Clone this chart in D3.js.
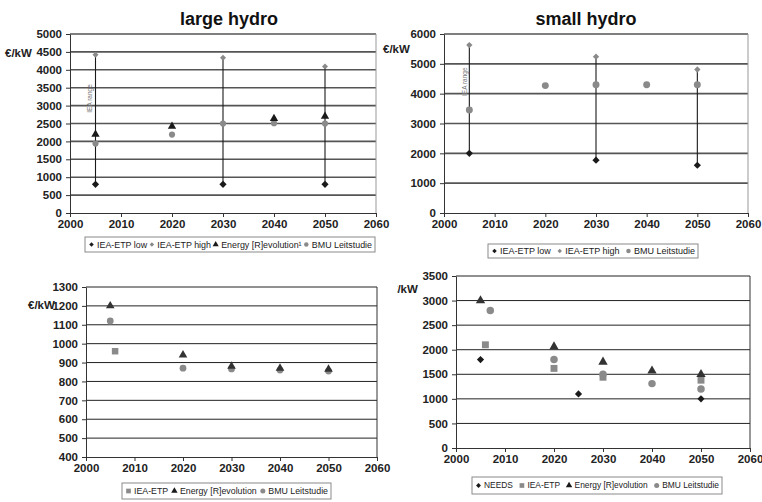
<!DOCTYPE html>
<html>
<head>
<meta charset="utf-8">
<title>hydro costs</title>
<script src="https://d3js.org/d3.v7.min.js"></script>
<style>
  body { margin: 0; background: #fff; }
  svg { display: block; font-family: "Liberation Sans", Arial, sans-serif; }
</style>
</head>
<body>
<svg width="762" height="502"></svg>
<script>
// ---- data (year, €/kW) ----
const xTicks = [2000, 2010, 2020, 2030, 2040, 2050, 2060];

// large hydro
const largeIeaLow = [[2005, 800], [2030, 800], [2050, 800]];
const largeIeaHigh = [[2005, 4420], [2030, 4340], [2050, 4090]];
const largeEnergyRev = [[2005, 2200], [2020, 2420], [2040, 2640], [2050, 2700]];
const largeBmu = [[2005, 1940], [2020, 2190], [2030, 2500], [2040, 2510], [2050, 2500]];
const largeTicks = d3.range(0, 5001, 500);

// small hydro
const smallIeaLow = [[2005, 2000], [2030, 1770], [2050, 1600]];
const smallIeaHigh = [[2005, 5630], [2030, 5240], [2050, 4810]];
const smallBmu = [[2005, 3450], [2020, 4270], [2030, 4300], [2040, 4300], [2050, 4300]];
const smallTicks = d3.range(0, 6001, 1000);

// bottom left
const blIeaEtp = [[2006, 960]];
const blEnergyRev = [[2005, 1200], [2020, 940], [2030, 880], [2040, 870], [2050, 865]];
const blBmu = [[2005, 1120], [2020, 870], [2030, 866], [2040, 860], [2050, 855]];
const blTicks = d3.range(400, 1301, 100);

// bottom right
const brNeeds = [[2005, 1800], [2025, 1100], [2050, 1000]];
const brIeaEtp = [[2006, 2100], [2020, 1620], [2030, 1440], [2050, 1380]];
const brEnergyRev = [[2005, 3000], [2020, 2060], [2030, 1750], [2040, 1570], [2050, 1500]];
const brBmu = [[2007, 2800], [2020, 1800], [2030, 1500], [2040, 1310], [2050, 1200]];
const brTicks = d3.range(0, 3501, 500);

const BLACK = "#1a1a1a", GREY = "#8a8a8a";

const svg = d3.select("svg");

function shapePath(shape, size) {
  if (shape === "diamond") return d3.symbol(d3.symbolSquare, size)();
  if (shape === "triangle") return d3.symbol(d3.symbolTriangle, size)();
  if (shape === "square") return d3.symbol(d3.symbolSquare, size)();
  return d3.symbol(d3.symbolCircle, size)();
}
function shapeRot(shape) { return shape === "diamond" ? " rotate(45)" : ""; }

function drawPanel(p) {
  const x = d3.scaleLinear().domain([2000, 2060]).range([p.left, p.right]);
  const y = d3.scaleLinear().domain([p.ticks[0], p.ticks[p.ticks.length - 1]]).range([p.bottom, p.top]);
  const g = svg.append("g");

  // gridlines
  g.selectAll("line.grid").data(p.ticks.slice(1)).join("line")
    .attr("x1", p.left).attr("x2", p.right)
    .attr("y1", d => y(d)).attr("y2", d => y(d))
    .attr("stroke", p.gridColor).attr("stroke-width", p.gridWidth);
  // frame right
  g.append("line").attr("x1", p.right).attr("x2", p.right)
    .attr("y1", p.top).attr("y2", p.bottom)
    .attr("stroke", p.frameColor).attr("stroke-width", 1);

  const yAxis = g.append("g").attr("transform", `translate(${p.left},0)`)
    .call(d3.axisLeft(y).tickValues(p.ticks).tickSize(4).tickSizeOuter(0).tickPadding(4).tickFormat(d3.format("d")));
  const xAxis = g.append("g").attr("transform", `translate(0,${p.bottom})`)
    .call(d3.axisBottom(x).tickValues(xTicks).tickSize(4).tickSizeOuter(0).tickPadding(3).tickFormat(d3.format("d")));
  [yAxis, xAxis].forEach(a => {
    a.select(".domain").attr("stroke", "#333");
    a.selectAll(".tick line").attr("stroke", "#333");
    a.selectAll("text").attr("fill", "#222").attr("font-size", 11.5)
      .attr("font-weight", "bold").attr("font-family", "Liberation Sans, Arial, sans-serif");
  });

  // range lines
  (p.ranges || []).forEach(r => {
    r.low.forEach((d, i) => {
      const h = r.high[i];
      g.append("line").attr("x1", x(d[0])).attr("x2", x(h[0]))
        .attr("y1", y(d[1])).attr("y2", y(h[1]))
        .attr("stroke", BLACK).attr("stroke-width", 1.1);
    });
  });
  if (p.rangeLabel) {
    const [yr, v, dx] = p.rangeLabel;
    g.append("text")
      .attr("transform", `translate(${x(yr) + dx},${y(v)}) rotate(-90)`)
      .attr("text-anchor", "middle").attr("font-size", 6.5).attr("fill", "#777")
      .text("IEA range");
  }

  // markers
  p.series.forEach(s => {
    g.selectAll(null).data(s.data).join("path")
      .attr("d", shapePath(s.shape, s.size))
      .attr("transform", d => `translate(${x(d[0])},${y(d[1])})` + shapeRot(s.shape))
      .attr("fill", s.color);
  });

  // title
  if (p.title) {
    const cx = (p.titleX);
    g.append("rect").attr("x", cx - 62).attr("y", p.top - 22).attr("width", 124).attr("height", 21).attr("fill", "#fff");
    g.append("text").attr("x", cx).attr("y", 25).attr("text-anchor", "middle")
      .attr("font-size", 18).attr("font-weight", "bold").attr("fill", "#111")
      .text(p.title);
  }
  // unit
  const u = g.append("text").attr("x", p.unit[0]).attr("y", p.unit[1])
    .attr("font-size", 11.5).attr("font-weight", "bold").attr("fill", "#222").text("€/kW");
  if (p.unitClip) {
    svg.append("clipPath").attr("id", "uclip").append("rect")
      .attr("x", p.unitClip).attr("y", p.unit[1] - 15).attr("width", 60).attr("height", 20);
    u.attr("clip-path", "url(#uclip)");
  }

  drawLegend(g, p.legend);
}

function drawLegend(g, L) {
  const pad = 3;
  const lg = g.append("g");
  lg.append("rect").attr("x", L.x).attr("y", L.y).attr("width", L.w).attr("height", L.h)
    .attr("fill", "#fff").attr("stroke", "#8a8a8a").attr("stroke-width", 1);
  const parts = L.items.map(it => {
    const m = lg.append("path").attr("d", shapePath(it.shape, it.size)).attr("fill", it.color);
    const t = lg.append("text").attr("font-size", L.fs).attr("fill", "#222").text(it.label);
    return { it, m, t, w: t.node().getComputedTextLength() };
  });
  const mw = 7, mg = 2;
  const content = d3.sum(parts, d => mw + mg + d.w);
  const gap = (L.w - 2 * pad - content) / Math.max(1, parts.length - 1);
  let cx = L.x + pad;
  const cy = L.y + L.h / 2;
  parts.forEach(d => {
    d.m.attr("transform", `translate(${cx + mw / 2},${cy})` + shapeRot(d.it.shape));
    d.t.attr("x", cx + mw + mg).attr("y", cy + L.fs * 0.35);
    cx += mw + mg + d.w + gap;
  });
}

drawPanel({
  left: 70, right: 376, top: 34, bottom: 213, ticks: largeTicks,
  gridColor: "#555", gridWidth: 1.6, frameColor: "#999",
  title: "large hydro", titleX: 229, unit: [5, 57],
  ranges: [{ low: largeIeaLow, high: largeIeaHigh }],
  rangeLabel: [2005, 3200, -4],
  series: [
    { data: largeIeaLow, shape: "diamond", size: 26, color: BLACK },
    { data: largeIeaHigh, shape: "diamond", size: 18, color: GREY },
    { data: largeBmu, shape: "circle", size: 30, color: GREY },
    { data: largeEnergyRev, shape: "triangle", size: 30, color: BLACK }
  ],
  legend: { x: 85, y: 237, w: 290, h: 15, fs: 8.9, items: [
    { label: "IEA-ETP low", shape: "diamond", size: 10, color: BLACK },
    { label: "IEA-ETP high", shape: "diamond", size: 10, color: GREY },
    { label: "Energy [R]evolution¹", shape: "triangle", size: 16, color: BLACK },
    { label: "BMU Leitstudie", shape: "circle", size: 16, color: GREY }
  ] }
});

drawPanel({
  left: 444, right: 748, top: 34, bottom: 213, ticks: smallTicks,
  gridColor: "#555", gridWidth: 1.6, frameColor: "#999",
  title: "small hydro", titleX: 586, unit: [383, 53],
  ranges: [{ low: smallIeaLow, high: smallIeaHigh }],
  rangeLabel: [2005, 4400, -2],
  series: [
    { data: smallIeaLow, shape: "diamond", size: 26, color: BLACK },
    { data: smallIeaHigh, shape: "diamond", size: 20, color: GREY },
    { data: smallBmu, shape: "circle", size: 38, color: GREY }
  ],
  legend: { x: 488, y: 244, w: 210, h: 14, fs: 9, items: [
    { label: "IEA-ETP low", shape: "diamond", size: 10, color: BLACK },
    { label: "IEA-ETP high", shape: "diamond", size: 10, color: GREY },
    { label: "BMU Leitstudie", shape: "circle", size: 16, color: GREY }
  ] }
});

drawPanel({
  left: 86, right: 377, top: 287, bottom: 457, ticks: blTicks,
  gridColor: "#222", gridWidth: 1, frameColor: "#333",
  unit: [28, 309],
  series: [
    { data: blIeaEtp, shape: "square", size: 42, color: GREY },
    { data: blBmu, shape: "circle", size: 36, color: GREY },
    { data: blEnergyRev, shape: "triangle", size: 32, color: "#333" }
  ],
  legend: { x: 122, y: 483, w: 209, h: 16, fs: 8.8, items: [
    { label: "IEA-ETP", shape: "square", size: 22, color: GREY },
    { label: "Energy [R]evolution", shape: "triangle", size: 18, color: BLACK },
    { label: "BMU Leitstudie", shape: "circle", size: 20, color: GREY }
  ] }
});

drawPanel({
  left: 456, right: 750, top: 276, bottom: 448, ticks: brTicks,
  gridColor: "#222", gridWidth: 1, frameColor: "#333",
  unit: [391, 293], unitClip: 397,
  series: [
    { data: brNeeds, shape: "diamond", size: 26, color: BLACK },
    { data: brIeaEtp, shape: "square", size: 48, color: GREY },
    { data: brBmu, shape: "circle", size: 44, color: GREY },
    { data: brEnergyRev, shape: "triangle", size: 38, color: "#333" }
  ],
  legend: { x: 472, y: 477, w: 250, h: 17, fs: 8.4, items: [
    { label: "NEEDS", shape: "diamond", size: 12, color: BLACK },
    { label: "IEA-ETP", shape: "square", size: 22, color: GREY },
    { label: "Energy [R]evolution", shape: "triangle", size: 18, color: BLACK },
    { label: "BMU Leitstudie", shape: "circle", size: 20, color: GREY }
  ] }
});
</script>
</body>
</html>
